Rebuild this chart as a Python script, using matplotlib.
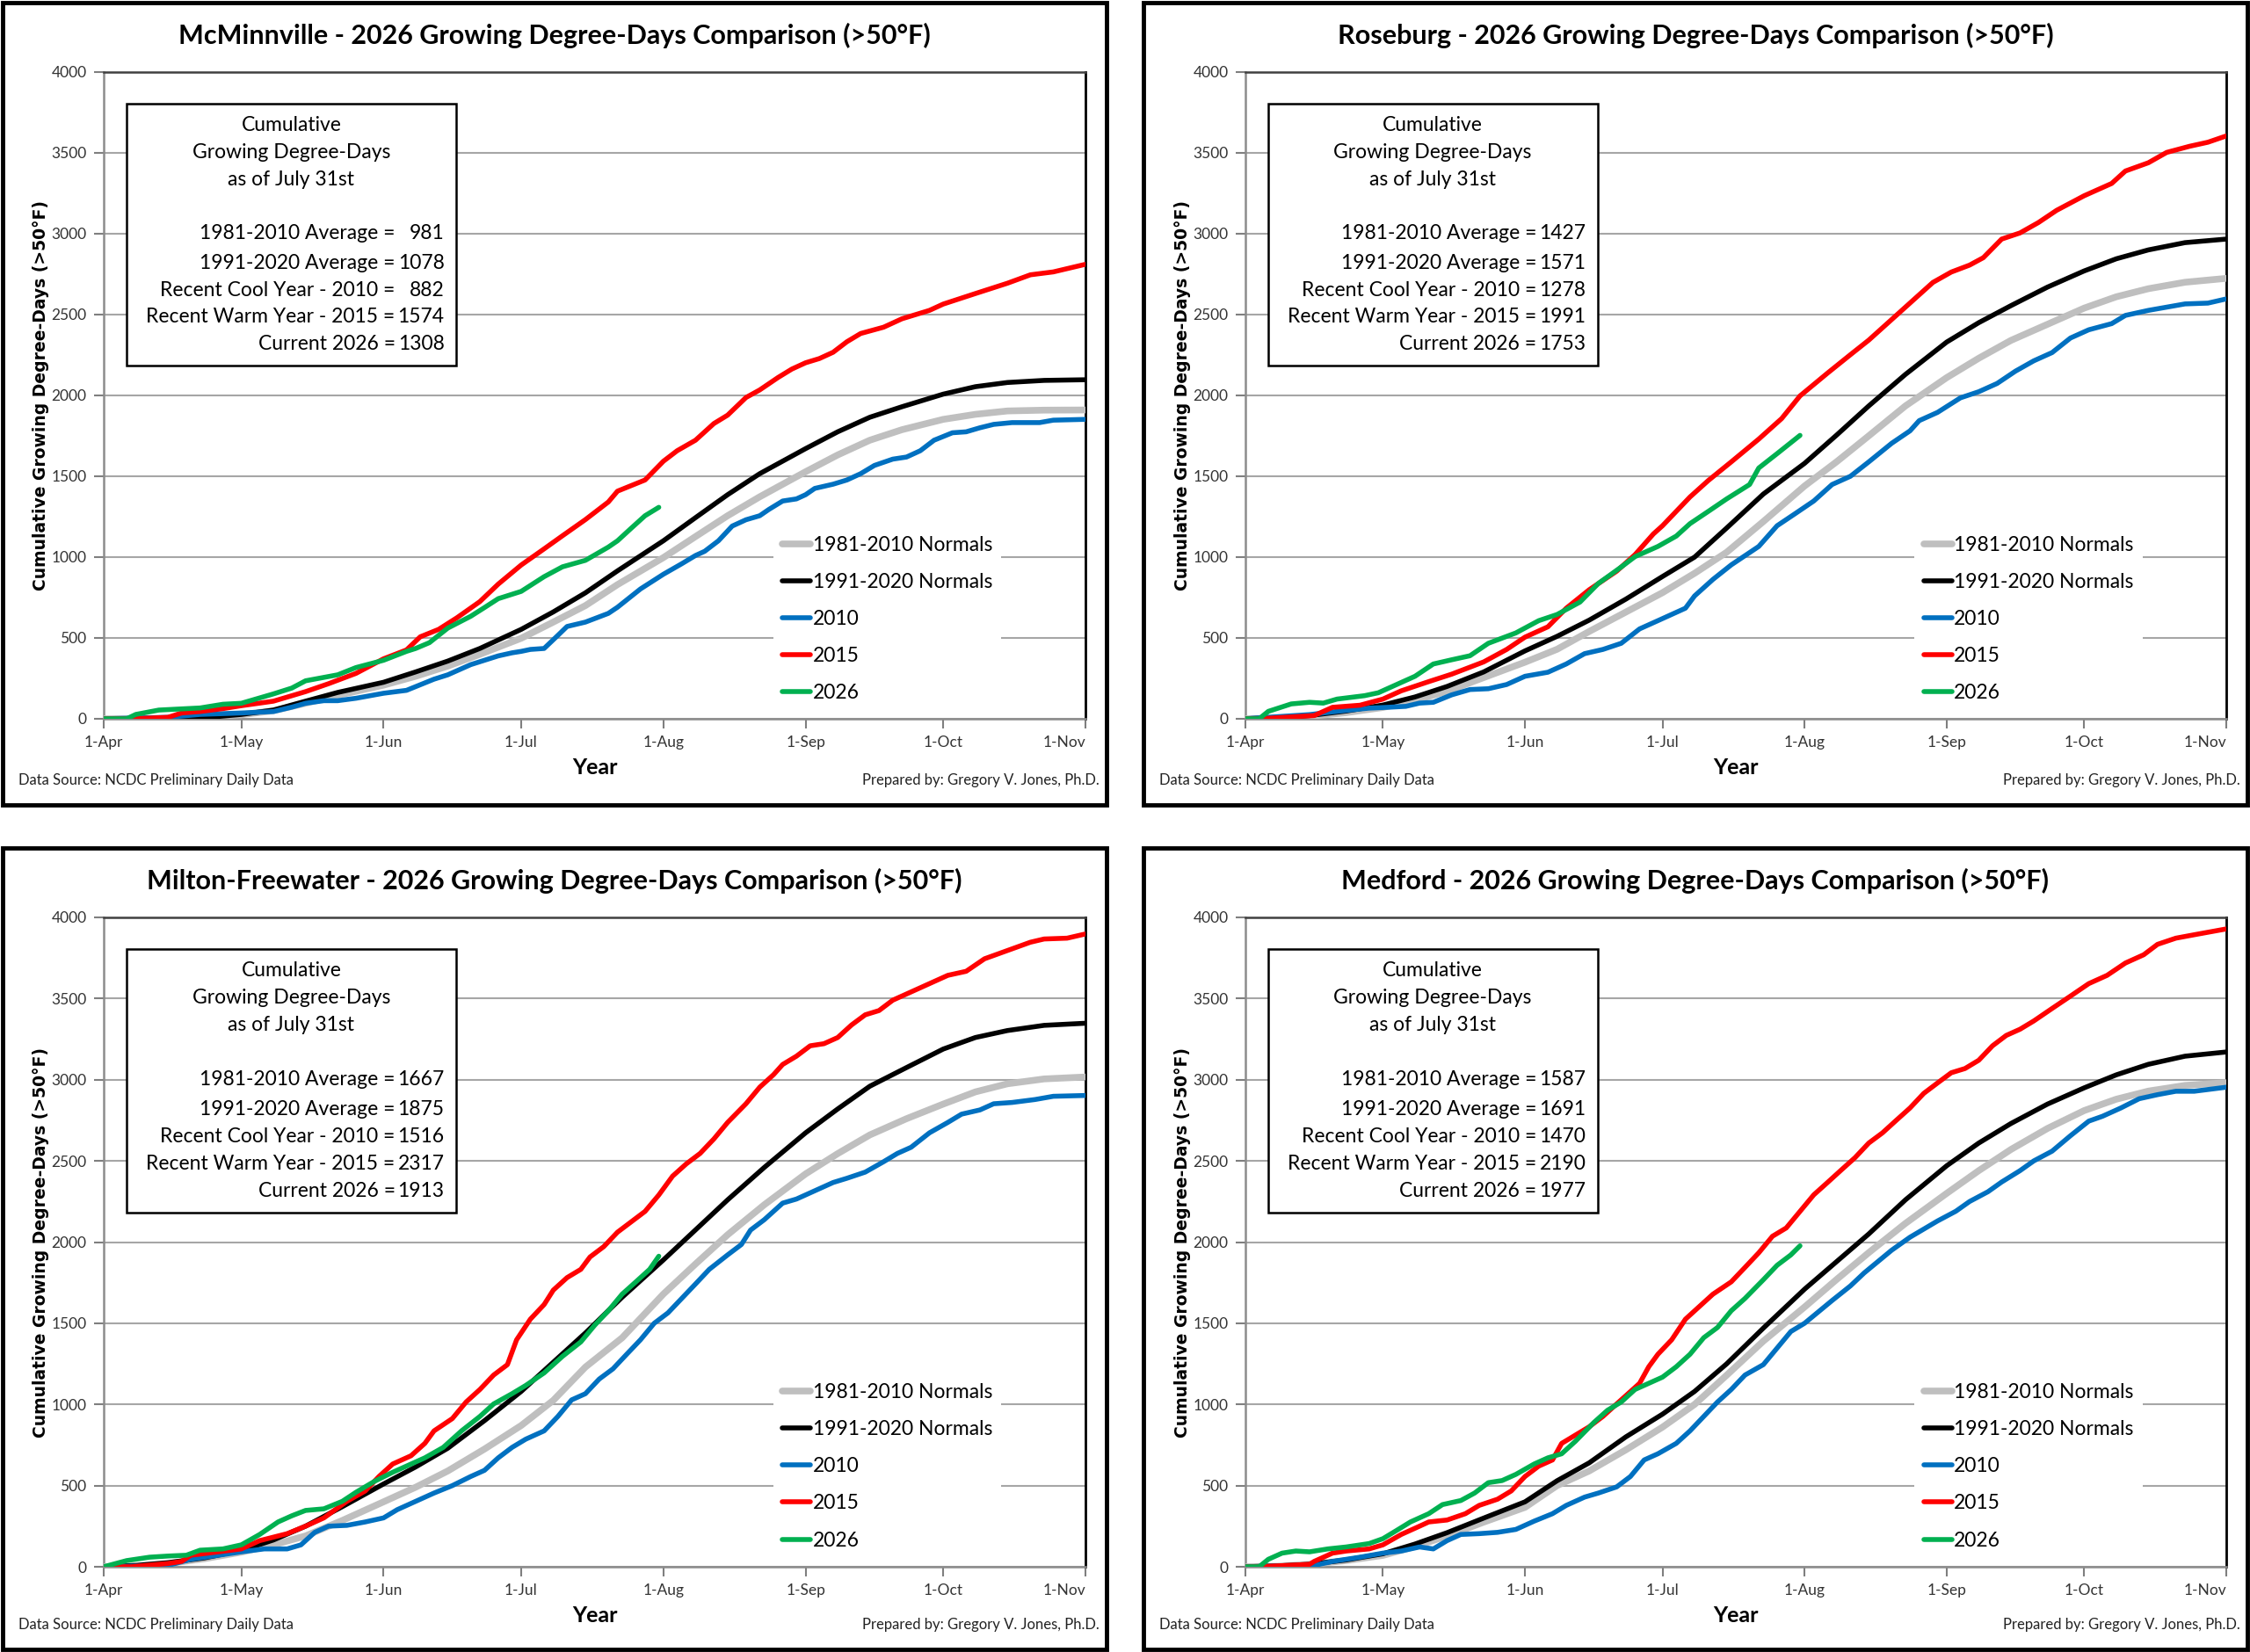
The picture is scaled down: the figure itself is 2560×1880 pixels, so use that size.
import matplotlib
matplotlib.use('Agg')
import matplotlib.pyplot as plt
from matplotlib.patches import Rectangle

plt.rcParams['font.family'] = ['Lato', 'DejaVu Sans']

# days since 1-Apr
month_ticks = [0, 30, 61, 91, 122, 153, 183, 214]
month_labels = ['1-Apr', '1-May', '1-Jun', '1-Jul', '1-Aug', '1-Sep', '1-Oct', '1-Nov']
norm_days = [0, 7, 14, 22, 30, 37, 44, 52, 61, 68, 75, 83, 91, 98, 105, 113, 122, 129, 136, 144,
             153, 160, 167, 175, 183, 190, 197, 205, 214]

series_names = ['1981-2010 Normals', '1991-2020 Normals', '2010', '2015', '2026']
series_colors = ['#BFBFBF', '#000000', '#0070C0', '#FF0000', '#00B050']
box_labels = ['1981-2010 Average =', '1991-2020 Average =', 'Recent Cool Year - 2010 =',
              'Recent Warm Year - 2015 =', 'Current 2026 =']

# McMinnville
mcm_norm_days = [0, 14, 21, 30, 37, 44, 51, 61, 68, 75, 82, 91, 98, 105, 112, 122, 129, 136, 143,
                 153, 160, 167, 174, 183, 190, 197, 205, 214]
mcm_norm81 = [0, 2, 8, 25, 50, 96, 145, 208, 263, 326, 399, 498, 598, 700, 830, 997, 1127, 1256,
              1373, 1528, 1632, 1723, 1788, 1852, 1883, 1904, 1909, 1910]
mcm_norm91 = [0, 0, 4, 27, 54, 109, 163, 226, 290, 357, 435, 553, 661, 779, 915, 1101, 1244, 1386,
              1516, 1671, 1775, 1865, 1930, 2008, 2054, 2080, 2093, 2097]
mcm_2010_days = [0, 14, 21, 30, 37, 41, 44, 48, 51, 55, 61, 66, 68, 72, 75, 80, 86, 89, 91, 93, 96,
                 99, 101, 105, 110, 112, 117, 122, 126, 129, 131, 134, 137, 140, 143, 145, 148,
                 151, 153, 155, 159, 162, 165, 168, 172, 175, 178, 181, 185, 188, 191, 194, 198,
                 204, 207, 214]
mcm_2010 = [0, 9, 27, 36, 45, 72, 96, 112, 112, 127, 158, 176, 199, 245, 272, 335, 389, 408, 417,
            429, 435, 516, 571, 598, 652, 690, 803, 894, 959, 1010, 1036, 1101, 1192, 1231, 1256,
            1295, 1347, 1360, 1386, 1425, 1451, 1477, 1516, 1567, 1606, 1619, 1658, 1723, 1769,
            1775, 1800, 1821, 1832, 1832, 1847, 1852]
mcm_2015_days = [0, 6, 14, 17, 21, 26, 30, 37, 44, 49, 55, 61, 66, 69, 73, 77, 82, 86, 91, 96,
                 100, 105, 110, 112, 118, 122, 125, 129, 133, 136, 140, 143, 147, 150, 153, 156,
                 159, 162, 165, 170, 174, 180, 183, 190, 197, 202, 207, 214]
mcm_2015 = [0, 0, 9, 36, 45, 63, 81, 109, 168, 217, 281, 371, 426, 507, 553, 625, 725, 833, 951,
            1051, 1132, 1232, 1341, 1408, 1477, 1593, 1658, 1723, 1826, 1878, 1987, 2034, 2111,
            2163, 2202, 2228, 2267, 2332, 2383, 2422, 2474, 2526, 2565, 2630, 2694, 2746, 2764,
            2811]
mcm_2026_days = [0, 5, 7, 12, 21, 26, 30, 37, 41, 44, 51, 55, 61, 66, 68, 71, 75, 80, 83, 86, 91,
                 96, 100, 105, 110, 112, 115, 118, 121]
mcm_2026 = [0, 0, 27, 54, 67, 90, 96, 154, 190, 235, 272, 317, 362, 417, 435, 471, 561, 634, 688,
            743, 788, 879, 940, 980, 1062, 1101, 1179, 1256, 1308]
mcm_box = [981, 1078, 882, 1574, 1308]

# Roseburg
rsb_norm81 = [0, 5, 15, 38, 70, 115, 170, 255, 350, 430, 540, 660, 780, 900, 1030, 1220, 1440,
              1590, 1750, 1935, 2110, 2230, 2340, 2440, 2540, 2610, 2660, 2700, 2724]
rsb_norm91 = [0, 8, 20, 48, 85, 135, 200, 290, 420, 510, 610, 740, 880, 1000, 1180, 1390, 1580,
              1755, 1935, 2130, 2330, 2450, 2555, 2670, 2770, 2845, 2900, 2945, 2967]
rsb_2010_days = [0, 14, 20, 27, 31, 35, 38, 41, 45, 49, 53, 57, 61, 66, 70, 74, 78, 82, 86, 90,
                 96, 98, 102, 106, 112, 116, 120, 124, 128, 132, 136, 141, 145, 147, 151, 156,
                 160, 164, 168, 172, 176, 180, 184, 189, 192, 197, 201, 205, 210, 214]
rsb_2010 = [0, 26, 46, 66, 71, 77, 97, 102, 148, 181, 186, 212, 263, 288, 339, 403, 429, 467, 556,
            607, 684, 760, 862, 952, 1066, 1194, 1270, 1347, 1449, 1500, 1589, 1704, 1781, 1844,
            1895, 1985, 2023, 2074, 2150, 2214, 2265, 2355, 2406, 2444, 2495, 2526, 2546, 2566,
            2571, 2597]
rsb_2015_days = [0, 3, 15, 19, 25, 30, 34, 40, 45, 52, 57, 61, 66, 70, 75, 81, 85, 89, 91, 97, 101,
                 106, 112, 117, 121, 127, 132, 136, 142, 146, 150, 154, 158, 161, 165, 169, 173,
                 177, 183, 189, 192, 197, 201, 206, 210, 214]
rsb_2015 = [0, 0, 20, 71, 84, 122, 173, 230, 276, 352, 429, 505, 569, 684, 798, 913, 1015, 1143,
            1194, 1372, 1474, 1589, 1730, 1857, 1997, 2138, 2252, 2342, 2495, 2597, 2699, 2763,
            2806, 2852, 2967, 3005, 3069, 3145, 3235, 3311, 3388, 3439, 3503, 3541, 3566, 3605]
rsb_2026_days = [0, 3, 5, 10, 14, 17, 20, 26, 29, 33, 37, 41, 45, 49, 53, 59, 64, 68, 73, 77, 82,
                 85, 90, 94, 97, 101, 105, 110, 112, 116, 121]
rsb_2026 = [0, 0, 46, 92, 102, 97, 122, 143, 161, 212, 263, 339, 365, 390, 467, 531, 607, 645,
            722, 837, 939, 1003, 1066, 1130, 1207, 1283, 1360, 1449, 1551, 1640, 1753]
rsb_box = [1427, 1571, 1278, 1991, 1753]

# Milton-Freewater
mfw_norm81 = [0, 5, 20, 50, 90, 135, 190, 285, 400, 490, 590, 725, 870, 1025, 1230, 1410, 1680,
              1865, 2045, 2230, 2420, 2545, 2660, 2760, 2850, 2925, 2975, 3005, 3017]
mfw_norm91 = [0, 8, 25, 55, 100, 165, 250, 370, 510, 615, 730, 900, 1080, 1260, 1440, 1660, 1890,
              2075, 2260, 2460, 2673, 2820, 2960, 3075, 3189, 3260, 3303, 3335, 3348]
mfw_2010_days = [0, 14, 19, 25, 30, 35, 40, 43, 46, 49, 53, 57, 61, 64, 68, 72, 76, 80, 83, 86,
                 89, 92, 96, 99, 102, 105, 108, 111, 114, 117, 120, 123, 126, 129, 132, 136, 139,
                 141, 144, 148, 151, 155, 159, 162, 166, 170, 173, 176, 180, 184, 187, 191, 194,
                 198, 203, 207, 214]
mfw_2010 = [0, 8, 46, 71, 92, 110, 110, 135, 212, 250, 255, 276, 301, 352, 403, 454, 500, 556,
            594, 671, 735, 786, 837, 926, 1028, 1066, 1156, 1219, 1309, 1398, 1500, 1564, 1653,
            1742, 1832, 1921, 1985, 2074, 2138, 2240, 2265, 2316, 2367, 2393, 2431, 2495, 2546,
            2584, 2673, 2737, 2788, 2814, 2852, 2860, 2878, 2898, 2903]
mfw_2015_days = [0, 6, 14, 17, 19, 25, 30, 34, 40, 44, 48, 53, 57, 60, 63, 67, 70, 72, 76, 79, 82,
                 85, 88, 90, 93, 96, 98, 101, 104, 106, 109, 112, 115, 118, 121, 124, 127, 130,
                 133, 136, 140, 143, 146, 148, 151, 154, 157, 160, 163, 166, 169, 172, 176, 180,
                 184, 188, 192, 197, 202, 205, 210, 214]
mfw_2015 = [0, 0, 20, 33, 71, 92, 110, 161, 204, 250, 301, 403, 467, 556, 633, 684, 760, 837, 913,
            1015, 1092, 1181, 1245, 1398, 1525, 1615, 1704, 1781, 1832, 1908, 1972, 2061, 2125,
            2189, 2290, 2406, 2482, 2546, 2635, 2737, 2852, 2954, 3031, 3094, 3145, 3209, 3222,
            3260, 3337, 3400, 3426, 3490, 3541, 3592, 3643, 3668, 3745, 3796, 3847, 3867, 3872,
            3898]
mfw_2026_days = [0, 5, 10, 14, 18, 21, 26, 30, 34, 38, 41, 44, 48, 52, 55, 59, 63, 67, 70, 74, 78,
                 82, 85, 89, 92, 96, 100, 104, 107, 110, 113, 116, 119, 121]
mfw_2026 = [0, 38, 59, 66, 71, 102, 110, 135, 199, 276, 314, 347, 357, 403, 459, 526, 582, 633,
            671, 735, 837, 926, 1003, 1066, 1117, 1194, 1296, 1385, 1487, 1577, 1679, 1755, 1832,
            1913]
mfw_box = [1667, 1875, 1516, 2317, 1913]

# Medford
mfd_norm81 = [0, 3, 15, 38, 70, 125, 190, 275, 366, 500, 590, 720, 860, 1000, 1180, 1390, 1600,
              1770, 1935, 2115, 2300, 2440, 2570, 2700, 2810, 2880, 2930, 2965, 2982]
mfd_norm91 = [0, 5, 15, 42, 80, 140, 210, 300, 400, 530, 640, 800, 940, 1080, 1250, 1470, 1710,
              1880, 2050, 2260, 2470, 2610, 2730, 2850, 2950, 3030, 3095, 3145, 3171]
mfd_2010_days = [0, 15, 19, 25, 30, 34, 38, 41, 44, 47, 51, 55, 59, 63, 67, 70, 74, 77, 81, 84, 87,
                 90, 94, 97, 100, 103, 106, 109, 113, 116, 119, 122, 125, 128, 132, 135, 138, 141,
                 145, 148, 151, 155, 158, 162, 165, 169, 172, 176, 180, 184, 187, 191, 195, 199,
                 203, 207, 214]
mfd_2010 = [0, 8, 33, 59, 84, 97, 122, 110, 161, 199, 204, 212, 230, 281, 327, 378, 429, 454, 492,
            556, 658, 696, 760, 837, 926, 1015, 1092, 1181, 1245, 1347, 1449, 1500, 1570, 1640,
            1730, 1810, 1880, 1950, 2030, 2080, 2130, 2190, 2250, 2310, 2370, 2440, 2500, 2560,
            2655, 2745, 2775, 2826, 2883, 2908, 2929, 2929, 2954]
mfd_2015_days = [0, 3, 14, 15, 19, 22, 27, 30, 34, 38, 40, 44, 48, 51, 55, 58, 61, 64, 67, 69, 72,
                 75, 78, 81, 84, 86, 88, 90, 93, 96, 99, 102, 106, 109, 112, 115, 118, 121, 124,
                 127, 130, 133, 136, 139, 142, 145, 148, 151, 154, 157, 160, 163, 166, 169, 172,
                 176, 180, 184, 188, 192, 196, 199, 203, 207, 214]
mfd_2015 = [0, 0, 15, 33, 84, 97, 110, 135, 199, 250, 276, 288, 327, 378, 416, 467, 556, 620, 658,
            760, 811, 862, 926, 1003, 1079, 1130, 1232, 1309, 1398, 1525, 1602, 1679, 1755, 1844,
            1934, 2036, 2087, 2189, 2291, 2367, 2444, 2520, 2610, 2673, 2750, 2826, 2916, 2980,
            3043, 3069, 3120, 3209, 3273, 3311, 3362, 3439, 3515, 3592, 3643, 3719, 3770, 3834,
            3872, 3893, 3929]
mfd_2026_days = [0, 3, 5, 8, 11, 14, 18, 22, 27, 30, 33, 36, 40, 43, 47, 50, 53, 56, 59, 63, 66,
                 69, 72, 76, 79, 82, 85, 88, 91, 94, 97, 100, 103, 106, 109, 113, 116, 119, 121]
mfd_2026 = [0, 0, 46, 84, 97, 92, 110, 122, 143, 173, 224, 276, 327, 383, 408, 454, 518, 531, 569,
            633, 671, 696, 773, 888, 964, 1015, 1092, 1130, 1168, 1232, 1309, 1411, 1474, 1577,
            1653, 1768, 1857, 1921, 1977]
mfd_box = [1587, 1691, 1470, 2190, 1977]

W, H = 2560, 1880


def fx(px):
    return px / W


def fy(py):
    return 1 - py / H


def draw_panel(fig, station, border, axbox, series, box_values):
    bx0, by0, bx1, by1 = border
    fig.patches.append(Rectangle((fx(bx0), fy(by1)), fx(bx1 - bx0), (by1 - by0) / H,
                                 transform=fig.transFigure, fill=False, edgecolor='black',
                                 linewidth=3.5))
    cx = fx((bx0 + bx1) / 2)
    fig.text(cx, fy(by0 + 37), f'{station} - 2026 Growing Degree-Days Comparison (>50°F)',
             ha='center', va='center', fontsize=22, fontweight='bold')
    fig.text(fx(bx0 + 18), fy(by1 - 28), 'Data Source: NCDC Preliminary Daily Data',
             ha='left', va='center', fontsize=12, color='#222222')
    fig.text(fx(bx1 - 8), fy(by1 - 28), 'Prepared by: Gregory V. Jones, Ph.D.',
             ha='right', va='center', fontsize=12, color='#222222')

    ax0, ay0, ax1, ay1 = axbox
    ax = fig.add_axes([fx(ax0), fy(ay1), fx(ax1 - ax0), (ay1 - ay0) / H])

    widths = [5.5, 4, 4, 4, 4]
    for (days, vals), name, col, lw in zip(series, series_names, series_colors, widths):
        ax.plot(days, vals, color=col, linewidth=lw, label=name, solid_capstyle='round',
                solid_joinstyle='round', zorder=3)

    ax.set_xlim(0, 214)
    ax.set_ylim(0, 4000)
    ax.set_yticks(range(0, 4001, 500))
    ax.set_xticks(month_ticks)
    ax.set_xticklabels(month_labels)
    ax.get_xticklabels()[-1].set_horizontalalignment('right')
    ax.grid(axis='y', color='#A6A6A6', linewidth=1.5, zorder=0)
    ax.tick_params(axis='both', colors='#7F7F7F', length=8, width=1.5, labelsize=12.5,
                   labelcolor='#333333', pad=6)
    for s in ['left', 'bottom']:
        ax.spines[s].set_color('#8C8C8C')
        ax.spines[s].set_linewidth(1.8)
    ax.spines['right'].set_color('black')
    ax.spines['right'].set_linewidth(2)
    ax.spines['top'].set_color('#404040')
    ax.spines['top'].set_linewidth(1.8)

    ax.set_ylabel('Cumulative Growing Degree-Days (>50°F)', family='DejaVu Sans',
                  fontweight='bold', fontsize=13.5, labelpad=2)
    ax.set_xlabel('Year', fontweight='bold', fontsize=18, labelpad=6)

    # info box
    ax.add_patch(Rectangle((0.023, 0.546), 0.336, 0.405, transform=ax.transAxes,
                           facecolor='white', edgecolor='black', linewidth=1.8, zorder=5))
    for txt, yy in zip(['Cumulative', 'Growing Degree-Days', 'as of July 31st'],
                       [0.918, 0.876, 0.834]):
        ax.text(0.191, yy, txt, transform=ax.transAxes, ha='center', va='center',
                fontsize=16.5, zorder=6)
    for lab, val, yy in zip(box_labels, box_values, [0.75, 0.705, 0.663, 0.621, 0.579]):
        ax.text(0.297, yy, lab, transform=ax.transAxes, ha='right', va='center',
                fontsize=16.5, zorder=6)
        ax.text(0.347, yy, str(val), transform=ax.transAxes, ha='right', va='center',
                fontsize=16.5, zorder=6)

    leg = ax.legend(loc='upper left', bbox_to_anchor=(0.672, 0.312), frameon=True,
                    fontsize=16.5, handlelength=1.4, handletextpad=0.1, labelspacing=0.92,
                    borderpad=0.45, fancybox=False)
    leg.get_frame().set_edgecolor('none')
    leg.get_frame().set_facecolor('white')
    leg.get_frame().set_alpha(1)
    leg.set_zorder(7)
    return ax


fig = plt.figure(figsize=(25.6, 18.8), dpi=100)

panels = [
    ('McMinnville', (3, 3, 1259, 916), (118, 82, 1235, 818),
     [(mcm_norm_days, mcm_norm81), (mcm_norm_days, mcm_norm91), (mcm_2010_days, mcm_2010),
      (mcm_2015_days, mcm_2015), (mcm_2026_days, mcm_2026)], mcm_box),
    ('Roseburg', (1301, 3, 2557, 916), (1417, 82, 2533, 818),
     [(norm_days, rsb_norm81), (norm_days, rsb_norm91), (rsb_2010_days, rsb_2010),
      (rsb_2015_days, rsb_2015), (rsb_2026_days, rsb_2026)], rsb_box),
    ('Milton-Freewater', (3, 965, 1259, 1877), (118, 1044, 1235, 1783),
     [(norm_days, mfw_norm81), (norm_days, mfw_norm91), (mfw_2010_days, mfw_2010),
      (mfw_2015_days, mfw_2015), (mfw_2026_days, mfw_2026)], mfw_box),
    ('Medford', (1301, 965, 2557, 1877), (1417, 1044, 2533, 1783),
     [(norm_days, mfd_norm81), (norm_days, mfd_norm91), (mfd_2010_days, mfd_2010),
      (mfd_2015_days, mfd_2015), (mfd_2026_days, mfd_2026)], mfd_box),
]

for station, border, axbox, series, box_values in panels:
    draw_panel(fig, station, border, axbox, series, box_values)

fig.savefig('out.png', dpi=100, facecolor='white')
